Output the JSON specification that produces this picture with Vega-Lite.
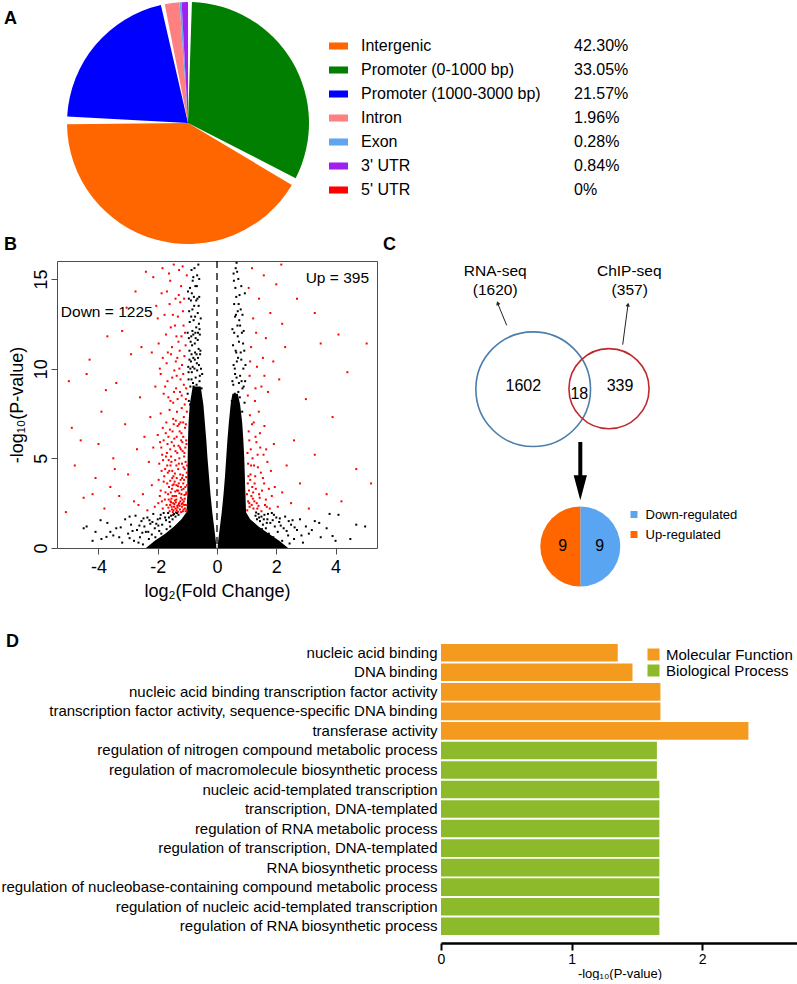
{
  "$schema": "https://vega.github.io/schema/vega-lite/v6.json",
  "background": "white",
  "padding": 0,
  "bounds": "full",
  "spacing": 2,
  "resolve": {"scale": {"color": "independent", "theta": "independent"}, "legend": {"color": "independent"}},
  "config": {
    "view": {"stroke": null},
    "font": "Liberation Sans",
    "text": {"font": "Liberation Sans", "color": "black"},
    "axis": {"labelFont": "Liberation Sans", "titleFont": "Liberation Sans", "titleFontWeight": "normal", "labelColor": "black", "titleColor": "black", "grid": false},
    "legend": {"labelFont": "Liberation Sans", "labelColor": "black"}
  },
  "datasets": {
    "genomic": [
      {"cat": "Intergenic", "pct": 42.30, "label": "42.30%", "pieRank": 2},
      {"cat": "Promoter (0-1000 bp)", "pct": 33.05, "label": "33.05%", "pieRank": 1},
      {"cat": "Promoter (1000-3000 bp)", "pct": 21.57, "label": "21.57%", "pieRank": 3},
      {"cat": "Intron", "pct": 1.96, "label": "1.96%", "pieRank": 4},
      {"cat": "Exon", "pct": 0.28, "label": "0.28%", "pieRank": 5},
      {"cat": "3' UTR", "pct": 0.84, "label": "0.84%", "pieRank": 6},
      {"cat": "5' UTR", "pct": 0, "label": "0%", "pieRank": 7}
    ],
    "core": [
      {"side": "L", "y": 0.0, "xo": -2.4, "xi": -0.02},
      {"side": "L", "y": 0.4, "xo": -2.1, "xi": -0.04},
      {"side": "L", "y": 0.8, "xo": -1.75, "xi": -0.07},
      {"side": "L", "y": 1.2, "xo": -1.45, "xi": -0.1},
      {"side": "L", "y": 1.6, "xo": -1.2, "xi": -0.13},
      {"side": "L", "y": 2.0, "xo": -1.03, "xi": -0.16},
      {"side": "L", "y": 3.0, "xo": -1.0, "xi": -0.22},
      {"side": "L", "y": 4.0, "xo": -1.0, "xi": -0.27},
      {"side": "L", "y": 5.0, "xo": -0.99, "xi": -0.32},
      {"side": "L", "y": 6.0, "xo": -0.98, "xi": -0.36},
      {"side": "L", "y": 7.0, "xo": -0.96, "xi": -0.41},
      {"side": "L", "y": 8.0, "xo": -0.92, "xi": -0.46},
      {"side": "L", "y": 9.0, "xo": -0.82, "xi": -0.55},
      {"side": "R", "y": 0.0, "xo": 2.4, "xi": 0.02},
      {"side": "R", "y": 0.4, "xo": 2.1, "xi": 0.04},
      {"side": "R", "y": 0.8, "xo": 1.75, "xi": 0.07},
      {"side": "R", "y": 1.2, "xo": 1.4, "xi": 0.1},
      {"side": "R", "y": 1.6, "xo": 1.12, "xi": 0.13},
      {"side": "R", "y": 2.0, "xo": 0.98, "xi": 0.16},
      {"side": "R", "y": 3.0, "xo": 0.96, "xi": 0.22},
      {"side": "R", "y": 4.0, "xo": 0.94, "xi": 0.27},
      {"side": "R", "y": 5.0, "xo": 0.92, "xi": 0.31},
      {"side": "R", "y": 6.0, "xo": 0.89, "xi": 0.35},
      {"side": "R", "y": 7.0, "xo": 0.85, "xi": 0.4},
      {"side": "R", "y": 8.0, "xo": 0.78, "xi": 0.46},
      {"side": "R", "y": 8.6, "xo": 0.7, "xi": 0.52}
    ],
    "pts": [
      {"g": "ns", "p": [[-4.5,1.1],[-4.4,1.2],[-4.1,0.9],[-3.93,1.55],[-3.9,0.5],[-3.73,0.62],[-3.7,1.4],[-3.5,0.7],[-3.4,1.1],[-3.2,0.3],[-3.1,1.6],[-3.0,0.8],[-2.9,1.3],[-2.8,0.4],[-2.75,1.8],[-2.7,1.0],[-2.6,0.6],[-2.55,1.5],[-2.5,0.2],[-2.45,1.2],[-2.4,0.9],[-2.35,1.7],[-2.3,0.5],[-2.25,1.35],[-2.2,0.75],[-2.15,1.9],[-2.1,1.1],[-2.05,0.35],[-2.0,1.6],[-1.95,0.95],[-1.9,1.85],[-1.85,1.3],[-1.8,0.6],[-1.75,1.7],[-1.7,1.05],[-1.65,1.95],[-1.6,1.45],[-1.55,1.8],[-1.5,1.6],[-1.45,1.9],[-1.4,1.75],[-1.35,1.95],[-1.3,1.85],[-2.62,1.25],[-2.85,0.95],[-3.25,1.15],[-2.95,1.75],[-2.48,1.65],[-2.18,1.45],[-1.98,1.25],[-1.72,1.55],[-1.58,1.2],[-1.88,0.8],[-2.08,0.6],[-2.32,0.9],
        [-4.2,0.4],[-3.6,0.9],[-3.3,0.6],[-2.95,0.55],[-2.65,0.3],[-2.52,0.85],[-2.28,1.55],[-2.05,1.35],[-1.92,1.65],[-1.8,1.95],[-1.62,1.7],[-1.48,1.85],[-1.38,1.98],
        [1.3,1.8],[1.35,1.6],[1.4,1.9],[1.45,1.5],[1.5,1.75],[1.55,1.3],[1.6,1.85],[1.65,1.1],[1.7,1.6],[1.75,0.8],[1.8,1.4],[1.85,1.95],[1.9,0.6],[1.95,1.2],[2.0,1.7],[2.05,0.9],[2.1,1.45],[2.2,0.4],[2.25,1.1],[2.3,1.75],[2.4,0.7],[2.5,1.3],[2.6,0.5],[2.7,1.0],[2.8,1.6],[2.9,0.3],[3.0,1.2],[3.1,0.8],[3.3,1.5],[3.5,0.6],[3.7,1.1],[3.8,1.9],[3.9,0.67],[4.1,1.85],[4.5,0.5],[4.7,1.3],[5.0,1.2],[1.52,1.05],[1.68,1.4],[1.88,1.55],[2.15,1.25],[2.35,0.95],[2.55,1.55],[1.98,0.45],[2.45,0.25],
        [1.32,1.98],[1.42,1.7],[1.58,1.6],[1.72,1.9],[1.92,1.85],[2.12,1.65],[2.42,1.5],[2.62,1.15],[2.85,0.7],[3.2,1.0],[3.45,1.4],[4.0,0.4],
        [-0.95,8.2],[-0.9,9.0],[-0.85,9.8],[-0.8,10.6],[-0.75,11.4],[-0.7,12.3],[-0.65,13.1],[-0.6,14.0],[-0.92,12.6],[-0.88,13.8],[-0.82,14.9],[-0.78,8.7],[-0.72,9.5],[-0.68,10.3],[-0.62,11.1],[-0.58,11.9],[-0.55,12.8],[-0.52,8.9],[-0.5,9.7],[-0.97,10.1],[-0.93,11.0],[-0.87,11.8],[-0.83,12.1],[-0.77,13.5],[-0.73,14.6],[-0.67,15.2],[-0.63,15.8],[-0.59,9.3],[-0.57,10.8],[-0.98,14.3],[-0.86,15.5],[-0.71,7.9],[-0.66,8.5],[-0.54,10.0],[-0.8,7.6],[-0.9,7.3],[-0.96,9.4],[-0.74,10.9],[-0.84,11.3],[-0.61,12.5],[-0.69,9.1],[-0.76,10.0],[-0.81,9.2],[-0.64,10.6],[-0.72,11.7],[-0.88,10.4],[-0.79,12.7],[-0.56,8.2],[-0.66,13.9],[-0.94,13.2],
        [-0.99,8.6],[-0.96,9.8],[-0.93,10.5],[-0.91,8.0],[-0.89,11.5],[-0.86,9.4],[-0.84,8.3],[-0.82,10.1],[-0.8,11.9],[-0.79,9.0],[-0.77,8.1],[-0.75,10.5],[-0.73,12.0],[-0.71,8.8],[-0.69,10.8],[-0.67,9.9],[-0.65,11.6],[-0.63,8.9],[-0.61,10.2],[-0.59,12.2],[-0.58,9.6],[-0.56,11.0],[-0.99,12.0],[-0.95,13.9],[-0.91,14.5],[-0.87,12.9],[-0.85,14.2],[-0.83,13.3],[-0.8,15.1],[-0.78,14.0],[-0.76,15.6],[-0.74,12.9],[-0.7,13.8],[-0.68,14.6],[-0.64,12.0],[-0.62,13.5],[-0.6,15.0],[-0.95,11.7],[-0.9,10.0],[-0.86,10.8],
        [0.5,8.2],[0.55,9.1],[0.6,10.0],[0.65,10.9],[0.7,11.8],[0.75,12.7],[0.58,13.6],[0.62,14.5],[0.68,15.4],[0.72,8.7],[0.78,9.6],[0.82,10.5],[0.88,11.4],[0.52,12.2],[0.64,13.0],[0.57,14.9],[0.93,8.1],[0.85,7.6],[0.7,7.4],[0.66,15.9],[0.54,11.3],[0.8,13.3],[0.9,9.0],[0.96,10.2],[0.76,14.1],[0.84,12.0],[0.59,7.8],[0.74,9.2],[0.63,8.4],[0.69,12.4],[0.61,9.7],[0.67,10.4],[0.73,13.6],
        [0.52,9.3],[0.56,10.2],[0.6,8.6],[0.63,11.0],[0.66,9.5],[0.69,8.2],[0.71,10.6],[0.74,11.5],[0.77,8.4],[0.8,10.9],[0.83,9.3],[0.86,8.9],[0.89,10.0],[0.92,11.0],[0.95,9.3],[0.58,12.0],[0.61,12.9],[0.65,14.0],[0.7,13.2],[0.78,12.4],[0.82,14.6],[0.86,13.0],[0.9,12.1],[0.56,15.3],[0.63,15.6],[0.72,15.0],[0.94,14.2]]},
      {"g": "sig", "p": [[-1.02,2.1],[-1.05,2.4],[-1.08,2.2],[-1.12,2.6],[-1.15,2.05],[-1.18,2.3],[-1.22,2.8],[-1.25,2.15],[-1.28,2.5],[-1.31,2.02],[-1.34,2.35],[-1.37,2.7],[-1.4,2.2],[-1.44,2.45],[-1.47,2.1],[-1.5,2.9],[-1.53,2.3],[-1.57,2.6],[-1.6,2.05],[-1.03,3.1],[-1.07,3.4],[-1.1,2.95],[-1.14,3.6],[-1.19,3.25],[-1.23,3.8],[-1.27,3.05],[-1.32,3.45],[-1.36,3.9],[-1.41,3.15],[-1.46,3.55],[-1.52,3.3],[-1.58,3.75],[-1.65,3.0],[-1.7,2.4],[-1.76,2.7],[-1.83,2.2],[-1.9,3.2],[-1.98,2.5],[-1.04,3.95],[-1.09,2.75],[-1.16,2.5],[-1.21,2.0],[-1.29,3.6],[-1.38,2.9],[-1.43,3.7],[-1.55,2.55],[-1.62,3.4],[-1.11,3.8],[-1.26,2.35],[-1.49,2.0],
        [-1.06,2.05],[-1.13,2.15],[-1.19,2.45],[-1.24,2.6],[-1.33,2.25],[-1.39,2.55],[-1.45,2.3],[-1.52,2.15],[-1.58,2.4],[-1.64,2.25],[-1.11,2.4],[-1.17,2.7],[-1.3,2.4],[-1.36,2.1],[-1.42,2.65],[-1.48,2.5],[-1.54,2.75],[-1.2,3.0],[-1.35,3.2],[-1.5,3.5],
        [-1.01,4.6],[-1.03,5.8],[-1.05,6.9],[-1.09,4.4],[-1.11,5.1],[-1.14,7.0],[-1.16,5.4],[-1.18,4.7],[-1.21,6.0],[-1.25,5.6],[-1.28,6.9],[-1.31,4.4],[-1.34,5.3],[-1.36,6.2],[-1.41,4.9],[-1.45,5.7],[-1.47,4.0],[-1.5,6.5],[-1.54,4.8],[-1.58,5.5],[-1.61,4.3],[-1.64,6.2],[-1.68,4.6],[-1.72,5.1],[-1.78,4.0],[-1.83,6.7],[-1.87,4.3],[-1.92,5.9],[-1.97,3.8],[-1.01,3.5],[-1.05,3.0],[-1.13,3.3],[-1.18,3.9],[-1.22,3.4],[-1.31,3.2],[-1.37,3.5],[-1.44,2.9],[-1.51,3.9],[-1.56,3.1],[-1.63,2.7],[-1.68,3.6],[-1.74,3.1],[-1.8,3.7],[-1.86,2.6],[-1.93,2.9],[-1.04,8.9],[-1.09,8.0],[-1.14,9.7],[-1.19,8.5],[-1.23,9.4],[-1.27,10.0],[-1.33,8.3],[-1.39,10.4],[-1.45,8.7],[-1.51,9.5],[-1.57,8.2],[-1.66,10.9],[-1.75,9.0],[-1.83,10.6],[-1.06,11.3],[-1.13,12.4],[-1.26,11.0],[-1.37,11.8],[-1.49,13.0],[-1.11,13.9],[-1.29,14.1],[-1.69,14.3],
        [-1.02,4.2],[-1.06,4.8],[-1.1,5.3],[-1.13,4.5],[-1.17,5.9],[-1.2,6.4],[-1.24,4.1],[-1.27,5.0],[-1.3,5.7],[-1.33,6.8],[-1.37,4.6],[-1.4,5.4],[-1.44,6.1],[-1.48,7.2],[-1.51,4.3],[-1.55,5.1],[-1.59,6.6],[-1.63,4.9],[-1.67,5.8],[-1.71,7.0],[-1.75,4.4],[-1.8,6.0],[-1.85,5.2],[-1.9,7.5],[-1.95,4.7],[-2.0,6.3],[-1.04,6.0],[-1.08,6.7],[-1.12,7.3],[-1.15,4.05],[-1.19,7.8],[-1.22,5.5],[-1.26,6.5],[-1.35,7.6],[-1.42,4.15],[-1.46,6.9],[-1.53,5.9],[-1.6,7.7],[-1.66,4.2],[-1.73,6.4],[-1.82,4.9],[-1.88,5.6],[-1.07,5.6],[-1.14,6.2],[-1.29,4.7],[-1.39,7.1],[-1.57,4.6],[-1.69,5.3],[-1.02,7.6],[-1.23,7.0],
        [-1.05,8.3],[-1.12,9.1],[-1.18,10.2],[-1.25,8.7],[-1.3,11.5],[-1.36,9.6],[-1.42,12.4],[-1.48,8.1],[-1.55,10.8],[-1.6,13.6],[-1.67,9.3],[-1.72,11.9],[-1.8,8.6],[-1.87,14.2],[-1.93,10.0],[-2.0,12.8],[-2.08,9.0],[-2.15,15.1],[-1.08,12.0],[-1.15,13.2],[-1.21,14.6],[-1.28,15.5],[-1.34,10.6],[-1.4,13.9],[-1.46,15.8],[-1.52,11.2],[-1.58,14.9],[-1.64,8.4],[-1.7,10.3],[-1.77,13.0],[-1.84,15.6],[-1.9,9.7],[-1.97,11.4],[-2.05,13.5],[-2.2,10.9],[-1.1,10.7],[-1.2,11.8],[-1.32,12.9],[-1.44,9.9],[-1.56,12.3],[-1.02,15.2],[-1.16,15.7],[-1.24,13.7],[-1.38,8.9],[-1.62,15.3],
        [-2.1,2.3],[-2.2,3.5],[-2.3,4.8],[-2.35,2.1],[-2.45,6.2],[-2.5,3.0],[-2.6,8.4],[-2.7,5.5],[-2.8,2.6],[-2.9,10.8],[-3.0,4.1],[-3.1,6.9],[-3.2,12.1],[-3.3,2.9],[-3.4,9.2],[-3.5,5.0],[-3.6,3.4],[-3.7,11.8],[-3.8,2.2],[-3.9,7.6],[-4.0,5.8],[-4.1,3.9],[-4.3,10.5],[-4.4,9.7],[-4.5,2.8],[-4.6,6.0],[-4.8,4.6],[-5.0,9.3],[-5.1,2.0],[-4.9,6.7],[-2.25,7.3],[-2.55,11.2],[-2.75,14.3],[-2.4,15.4],[-3.05,13.4],[-2.65,2.4],[-3.45,4.4],[-2.15,5.6],[-4.2,3.0],[-3.75,8.8],
        [1.02,2.1],[1.05,2.6],[1.08,3.2],[1.1,2.3],[1.13,4.1],[1.16,2.9],[1.2,5.0],[1.23,2.2],[1.27,3.6],[1.3,6.2],[1.34,2.5],[1.38,4.5],[1.42,3.0],[1.46,5.6],[1.5,2.05],[1.55,3.9],[1.6,6.8],[1.65,2.7],[1.7,4.8],[1.75,3.3],[1.03,5.3],[1.07,6.5],[1.11,7.4],[1.15,4.6],[1.19,3.4],[1.24,7.0],[1.29,4.0],[1.33,5.9],[1.4,2.35],[1.48,4.2],[1.57,5.2],[1.62,2.4],[1.78,2.2],[1.06,4.0],[1.21,2.75],
        [1.01,3.0],[1.04,3.6],[1.09,2.5],[1.12,3.8],[1.17,2.4],[1.22,3.1],[1.26,2.6],[1.31,3.3],[1.36,2.2],[1.44,2.8],[1.52,3.2],[1.59,3.6],[1.68,2.3],[1.85,2.9],[1.95,3.4],[1.05,4.7],[1.14,5.5],[1.25,4.6],[1.37,5.2],[1.45,6.4],[1.66,5.5],[1.82,4.3],[1.92,5.8],[1.09,6.0],[1.18,6.9],[1.41,7.6],[1.3,8.9],[1.12,10.4],[1.6,9.6],
        [1.04,8.5],[1.1,9.6],[1.15,11.2],[1.22,12.8],[1.28,8.2],[1.35,10.1],[1.42,13.9],[1.5,9.0],[1.58,15.2],[1.65,11.7],[1.72,8.7],[1.8,13.1],[1.9,10.4],[2.0,14.7],[2.1,9.4],[1.07,14.5],[1.18,15.6],[1.32,12.0],[1.55,10.6],[2.2,12.5],
        [2.05,2.3],[2.2,3.1],[2.35,4.6],[2.5,2.5],[2.6,6.0],[2.8,3.6],[3.0,8.3],[3.1,2.2],[3.3,5.2],[3.5,11.4],[3.7,3.0],[3.9,7.3],[4.2,2.6],[4.4,9.8],[4.7,4.4],[5.05,11.4],[5.2,3.6],[2.3,11.2],[2.7,13.9],[3.3,13.1],[4.1,11.9],[2.17,15.8]]}
    ],
    "volcText": [
      {"label": "Down = 1225", "side": "down"},
      {"label": "Up = 395", "side": "up"}
    ],
    "venn": [
      {"set": "RNA-seq", "total": 1620, "only": 1602},
      {"set": "ChIP-seq", "total": 357, "only": 339}
    ],
    "shared": [{"n": 18}],
    "reg": [
      {"reg": "Down-regulated", "n": 9},
      {"reg": "Up-regulated", "n": 9}
    ],
    "go": [
      {"term": "nucleic acid binding", "p": 1.354, "cat": "Molecular Function"},
      {"term": "DNA binding", "p": 1.467, "cat": "Molecular Function"},
      {"term": "nucleic acid binding transcription factor activity", "p": 1.681, "cat": "Molecular Function"},
      {"term": "transcription factor activity, sequence-specific DNA binding", "p": 1.681, "cat": "Molecular Function"},
      {"term": "transferase activity", "p": 2.355, "cat": "Molecular Function"},
      {"term": "regulation of nitrogen compound metabolic process", "p": 1.654, "cat": "Biological Process"},
      {"term": "regulation of macromolecule biosynthetic process", "p": 1.654, "cat": "Biological Process"},
      {"term": "nucleic acid-templated transcription", "p": 1.673, "cat": "Biological Process"},
      {"term": "transcription, DNA-templated", "p": 1.673, "cat": "Biological Process"},
      {"term": "regulation of RNA metabolic process", "p": 1.673, "cat": "Biological Process"},
      {"term": "regulation of transcription, DNA-templated", "p": 1.673, "cat": "Biological Process"},
      {"term": "RNA biosynthetic process", "p": 1.673, "cat": "Biological Process"},
      {"term": "regulation of nucleobase-containing compound metabolic process", "p": 1.673, "cat": "Biological Process"},
      {"term": "regulation of nucleic acid-templated transcription", "p": 1.673, "cat": "Biological Process"},
      {"term": "regulation of RNA biosynthetic process", "p": 1.673, "cat": "Biological Process"}
    ],
    "panels": [
      {"panel": "A"}, {"panel": "B"}, {"panel": "C"}, {"panel": "D"}
    ]
  },
  "vconcat": [
    {
      "hconcat": [
        {
          "width": 59, "height": 257,
          "data": {"name": "panels"},
          "encoding": {
            "x": {"datum": 3, "type": "quantitative", "scale": {"domain": [0, 59], "nice": false, "zero": false}, "axis": null},
            "text": {"field": "panel"}
          },
          "layer": [
            {
              "transform": [{"filter": "datum.panel === 'A'"}],
              "mark": {"type": "text", "align": "left", "baseline": "middle", "fontSize": 18, "fontWeight": "bold"},
              "encoding": {"y": {"datum": 18.5, "type": "quantitative", "scale": {"domain": [0, 257], "nice": false, "zero": false, "reverse": true}, "axis": null}}
            },
            {
              "transform": [{"filter": "datum.panel === 'B'"}],
              "mark": {"type": "text", "align": "left", "baseline": "middle", "fontSize": 18, "fontWeight": "bold"},
              "encoding": {"y": {"datum": 245, "type": "quantitative"}}
            }
          ]
        },
        {
          "width": 256, "height": 257,
          "data": {"name": "genomic"},
          "encoding": {
            "x": {"datum": 128, "type": "quantitative", "scale": {"domain": [0, 256], "nice": false, "zero": false}, "axis": null},
            "y": {"datum": 123, "type": "quantitative", "scale": {"domain": [0, 257], "nice": false, "zero": false, "reverse": true}, "axis": null},
            "theta": {"field": "pct", "type": "quantitative", "stack": true},
            "order": {"field": "pieRank", "type": "quantitative"}
          },
          "layer": [
            {
              "mark": {"type": "arc", "outerRadius": 121, "padAngle": 0.065},
              "encoding": {
                "color": {"field": "cat", "type": "nominal", "legend": null,
                  "scale": {"domain": ["Intergenic", "Promoter (0-1000 bp)", "Promoter (1000-3000 bp)", "Intron", "Exon", "3' UTR", "5' UTR"],
                            "range": ["#ff6600", "#007f00", "#0000ff", "#ff8080", "#5fa5f0", "#a020f0", "#ff0000"]}},
                "opacity": {"condition": {"test": "datum.pct > 5", "value": 1}, "value": 0}
              }
            },
            {
              "mark": {"type": "arc", "outerRadius": 121},
              "encoding": {
                "color": {"field": "cat", "type": "nominal", "legend": null},
                "opacity": {"condition": {"test": "datum.pct > 5", "value": 0}, "value": 1}
              }
            }
          ]
        },
        {
          "width": 300, "height": 257,
          "layer": [
            {
              "data": {"name": "genomic"},
              "encoding": {
                "y": {"field": "cat", "type": "nominal", "sort": null, "axis": null,
                      "scale": {"domain": ["Intergenic", "Promoter (0-1000 bp)", "Promoter (1000-3000 bp)", "Intron", "Exon", "3' UTR", "5' UTR"], "range": [34, 202], "paddingInner": 0, "paddingOuter": 0}},
                "x": {"datum": 22.5, "type": "quantitative", "scale": {"domain": [0, 300], "nice": false, "zero": false}, "axis": null}
              },
              "layer": [
                {
                  "mark": {"type": "point", "shape": "M-1,-0.37H1V0.37H-1Z", "size": 361, "filled": true, "opacity": 1, "strokeWidth": 0},
                  "encoding": {
                    "color": {"field": "cat", "type": "nominal", "legend": null,
                      "scale": {"domain": ["Intergenic", "Promoter (0-1000 bp)", "Promoter (1000-3000 bp)", "Intron", "Exon", "3' UTR", "5' UTR"],
                                "range": ["#ff6600", "#007f00", "#0000ff", "#ff8080", "#5fa5f0", "#a020f0", "#ff0000"]}}
                  }
                },
                {
                  "mark": {"type": "text", "align": "left", "baseline": "middle", "fontSize": 16},
                  "encoding": {"x": {"datum": 45, "type": "quantitative"}, "text": {"field": "cat"}}
                },
                {
                  "mark": {"type": "text", "align": "left", "baseline": "middle", "fontSize": 16},
                  "encoding": {"x": {"datum": 258, "type": "quantitative"}, "text": {"field": "label"}}
                }
              ]
            },
            {
              "data": {"name": "panels"},
              "transform": [{"filter": "datum.panel === 'C'"}],
              "mark": {"type": "text", "align": "left", "baseline": "middle", "fontSize": 18, "fontWeight": "bold"},
              "encoding": {
                "x": {"datum": 67, "type": "quantitative"},
                "y": {"datum": 245, "type": "quantitative", "scale": {"domain": [0, 257], "nice": false, "zero": false, "reverse": true}, "axis": null},
                "text": {"field": "panel"}
              }
            }
          ],
          "resolve": {"scale": {"y": "independent"}}
        }
      ],
      "spacing": 0, "bounds": "flush",
      "resolve": {"scale": {"color": "independent", "theta": "independent"}, "legend": {"color": "independent"}}
    },
    {
      "hconcat": [
        {
          "width": 56, "height": 287,
          "data": {"values": [{}]},
          "mark": {"type": "point", "opacity": 0},
          "encoding": {}
        },
        {
          "width": 320, "height": 287,
          "view": {"stroke": "#4d4d4d", "strokeWidth": 1},
          "layer": [
            {
              "data": {"name": "core"},
              "mark": {"type": "area", "orient": "horizontal", "color": "black", "opacity": 1},
              "encoding": {
                "y": {"field": "y", "type": "quantitative",
                  "scale": {"domain": [0, 16], "nice": false, "zero": false},
                  "axis": {"values": [0, 5, 10, 15], "title": "-log₁₀(P-value)", "domain": false, "tickSize": 6, "tickColor": "#4d4d4d", "labelFontSize": 18, "titleFontSize": 18, "labelAngle": -90, "labelAlign": "center", "labelBaseline": "bottom", "labelPadding": 1, "titlePadding": 6}},
                "x": {"field": "xo", "type": "quantitative",
                  "scale": {"domain": [-5.4, 5.4], "nice": false, "zero": false},
                  "axis": {"values": [-4, -2, 0, 2, 4], "labelExpr": "'' + datum.value", "title": "log₂(Fold Change)", "domain": false, "tickSize": 6, "tickColor": "#4d4d4d", "labelFontSize": 18, "titleFontSize": 18, "labelPadding": 4, "titlePadding": 6, "labelFlush": false}},
                "x2": {"field": "xi"},
                "detail": {"field": "side"}
              }
            },
            {
              "data": {"name": "pts"},
              "transform": [{"flatten": ["p"]}],
              "mark": {"type": "point", "shape": "square", "filled": true, "size": 4, "opacity": 1, "strokeWidth": 0},
              "encoding": {
                "x": {"field": "p[0]", "type": "quantitative"},
                "y": {"field": "p[1]", "type": "quantitative"},
                "color": {"field": "g", "type": "nominal", "legend": null, "scale": {"domain": ["ns", "sig"], "range": ["#000000", "#ff0000"]}}
              }
            },
            {
              "data": {"values": [{}]},
              "mark": {"type": "rule", "color": "black", "strokeWidth": 1.3, "strokeDash": [7, 5]},
              "encoding": {"x": {"datum": 0, "type": "quantitative"}}
            },
            {
              "data": {"name": "volcText"},
              "transform": [{"filter": "datum.side === 'down'"}],
              "mark": {"type": "text", "align": "left", "baseline": "middle", "fontSize": 15.5},
              "encoding": {"x": {"datum": -5.27, "type": "quantitative"}, "y": {"datum": 13.15, "type": "quantitative"}, "text": {"field": "label"}}
            },
            {
              "data": {"name": "volcText"},
              "transform": [{"filter": "datum.side === 'up'"}],
              "mark": {"type": "text", "align": "right", "baseline": "middle", "fontSize": 15.5},
              "encoding": {"x": {"datum": 5.13, "type": "quantitative"}, "y": {"datum": 15.05, "type": "quantitative"}, "text": {"field": "label"}}
            }
          ]
        },
        {
          "width": 421, "height": 370,
          "data": {"name": "venn"},
          "layer": [
            {
              "transform": [{"filter": "datum.set === 'RNA-seq'"}],
              "mark": {"type": "point", "shape": "circle", "size": 13151, "filled": false, "color": "#4a7eab", "strokeWidth": 1.6, "opacity": 1},
              "encoding": {
                "x": {"datum": 156.2, "type": "quantitative", "scale": {"domain": [0, 421], "nice": false, "zero": false}, "axis": null},
                "y": {"datum": 128.2, "type": "quantitative", "scale": {"domain": [0, 370], "nice": false, "zero": false, "reverse": true}, "axis": null}
              }
            },
            {
              "transform": [{"filter": "datum.set === 'ChIP-seq'"}],
              "mark": {"type": "point", "shape": "circle", "size": 6418, "filled": false, "color": "#c0282d", "strokeWidth": 1.6, "opacity": 1},
              "encoding": {"x": {"datum": 232, "type": "quantitative"}, "y": {"datum": 127.7, "type": "quantitative"}}
            },
            {
              "transform": [{"filter": "datum.set === 'RNA-seq'"}],
              "mark": {"type": "text", "align": "center", "baseline": "middle", "fontSize": 15.5},
              "encoding": {"x": {"datum": 118.2, "type": "quantitative"}, "y": {"datum": 10.3, "type": "quantitative"}, "text": {"field": "set"}}
            },
            {
              "transform": [{"filter": "datum.set === 'ChIP-seq'"}],
              "mark": {"type": "text", "align": "center", "baseline": "middle", "fontSize": 15.5},
              "encoding": {"x": {"datum": 252.3, "type": "quantitative"}, "y": {"datum": 10.3, "type": "quantitative"}, "text": {"field": "set"}}
            },
            {
              "transform": [{"filter": "datum.set === 'RNA-seq'"}, {"calculate": "'(' + datum.total + ')'", "as": "totLabel"}],
              "mark": {"type": "text", "align": "center", "baseline": "middle", "fontSize": 15.5},
              "encoding": {"x": {"datum": 118.2, "type": "quantitative"}, "y": {"datum": 29.3, "type": "quantitative"}, "text": {"field": "totLabel"}}
            },
            {
              "transform": [{"filter": "datum.set === 'ChIP-seq'"}, {"calculate": "'(' + datum.total + ')'", "as": "totLabel"}],
              "mark": {"type": "text", "align": "center", "baseline": "middle", "fontSize": 15.5},
              "encoding": {"x": {"datum": 252.7, "type": "quantitative"}, "y": {"datum": 29.3, "type": "quantitative"}, "text": {"field": "totLabel"}}
            },
            {
              "transform": [{"filter": "datum.set === 'RNA-seq'"}],
              "mark": {"type": "text", "align": "center", "baseline": "middle", "fontSize": 16},
              "encoding": {"x": {"datum": 146.3, "type": "quantitative"}, "y": {"datum": 125, "type": "quantitative"}, "text": {"field": "only"}}
            },
            {
              "transform": [{"filter": "datum.set === 'ChIP-seq'"}],
              "mark": {"type": "text", "align": "center", "baseline": "middle", "fontSize": 16},
              "encoding": {"x": {"datum": 243, "type": "quantitative"}, "y": {"datum": 124.9, "type": "quantitative"}, "text": {"field": "only"}}
            },
            {
              "data": {"name": "shared"},
              "mark": {"type": "text", "align": "center", "baseline": "middle", "fontSize": 16},
              "encoding": {"x": {"datum": 202.3, "type": "quantitative"}, "y": {"datum": 132.7, "type": "quantitative"}, "text": {"field": "n"}}
            },
            {
              "data": {"values": [{}]},
              "mark": {"type": "rule", "color": "#222222", "strokeWidth": 1},
              "encoding": {"x": {"datum": 129.7, "type": "quantitative"}, "y": {"datum": 64.3, "type": "quantitative"}, "x2": {"datum": 120.5}, "y2": {"datum": 42}}
            },
            {
              "data": {"values": [{}]},
              "mark": {"type": "point", "shape": "triangle-up", "size": 20, "filled": true, "color": "#222222", "opacity": 1, "angle": -22},
              "encoding": {"x": {"datum": 120.7, "type": "quantitative"}, "y": {"datum": 42.1, "type": "quantitative"}}
            },
            {
              "data": {"values": [{}]},
              "mark": {"type": "rule", "color": "#222222", "strokeWidth": 1},
              "encoding": {"x": {"datum": 245.7, "type": "quantitative"}, "y": {"datum": 83.7, "type": "quantitative"}, "x2": {"datum": 251.0}, "y2": {"datum": 43.6}}
            },
            {
              "data": {"values": [{}]},
              "mark": {"type": "point", "shape": "triangle-up", "size": 20, "filled": true, "color": "#222222", "opacity": 1, "angle": 7.6},
              "encoding": {"x": {"datum": 251.0, "type": "quantitative"}, "y": {"datum": 43.6, "type": "quantitative"}}
            },
            {
              "data": {"values": [{}]},
              "mark": {"type": "rule", "color": "black", "strokeWidth": 4},
              "encoding": {"x": {"datum": 203.3, "type": "quantitative"}, "y": {"datum": 181, "type": "quantitative"}, "x2": {"datum": 203.3}, "y2": {"datum": 216}}
            },
            {
              "data": {"values": [{}]},
              "mark": {"type": "point", "shape": "M-0.53,-1L0.53,-1L0,1Z", "size": 625, "filled": true, "color": "black", "opacity": 1, "strokeWidth": 0},
              "encoding": {"x": {"datum": 203.3, "type": "quantitative"}, "y": {"datum": 226.8, "type": "quantitative"}}
            },
            {
              "data": {"name": "reg"},
              "mark": {"type": "arc", "outerRadius": 40},
              "encoding": {
                "x": {"datum": 203.3, "type": "quantitative"},
                "y": {"datum": 285.5, "type": "quantitative"},
                "theta": {"field": "n", "type": "quantitative", "stack": true},
                "color": {"field": "reg", "type": "nominal",
                  "scale": {"domain": ["Down-regulated", "Up-regulated"], "range": ["#5aa5f2", "#ff6600"]},
                  "legend": {"orient": "none", "legendX": 250.5, "legendY": 247, "title": null, "symbolType": "square", "symbolSize": 49, "symbolStrokeWidth": 0, "symbolOpacity": 1, "labelFontSize": 13, "labelOffset": 5, "rowPadding": 6}}
              }
            },
            {
              "data": {"name": "reg"},
              "transform": [{"filter": "datum.reg === 'Up-regulated'"}],
              "mark": {"type": "text", "align": "center", "baseline": "middle", "fontSize": 16},
              "encoding": {"x": {"datum": 185.7, "type": "quantitative"}, "y": {"datum": 285.3, "type": "quantitative"}, "text": {"field": "n"}}
            },
            {
              "data": {"name": "reg"},
              "transform": [{"filter": "datum.reg === 'Down-regulated'"}],
              "mark": {"type": "text", "align": "center", "baseline": "middle", "fontSize": 16},
              "encoding": {"x": {"datum": 222.7, "type": "quantitative"}, "y": {"datum": 285.3, "type": "quantitative"}, "text": {"field": "n"}}
            }
          ]
        }
      ],
      "spacing": 0, "bounds": "flush",
      "resolve": {"scale": {"color": "independent", "theta": "independent"}, "legend": {"color": "independent"}}
    },
    {
      "hconcat": [
        {
          "width": 440, "height": 291,
          "data": {"name": "panels"},
          "transform": [{"filter": "datum.panel === 'D'"}],
          "mark": {"type": "text", "align": "left", "baseline": "middle", "fontSize": 18, "fontWeight": "bold"},
          "encoding": {
            "text": {"field": "panel"},
            "x": {"datum": 5, "type": "quantitative", "scale": {"domain": [0, 440], "nice": false, "zero": false}, "axis": null},
            "y": {"datum": -2, "type": "quantitative", "scale": {"domain": [0, 291], "nice": false, "zero": false, "reverse": true}, "axis": null}
          }
        },
        {
          "width": 357, "height": 291,
          "data": {"name": "go"},
          "mark": {"type": "bar"},
          "encoding": {
            "y": {"field": "term", "type": "nominal", "sort": null,
                  "scale": {"paddingInner": 0.1, "paddingOuter": 0},
                  "axis": {"title": null, "ticks": false, "domain": false, "labelFontSize": 15, "labelPadding": 4, "labelLimit": 600}},
            "x": {"field": "p", "type": "quantitative",
                  "scale": {"domain": [0, 2.735], "nice": false},
                  "axis": {"values": [0, 1, 2], "title": "-log₁₀(P-value)", "titleFontSize": 13, "labelFontSize": 14, "domainWidth": 2.5, "domainColor": "black", "tickColor": "black", "tickWidth": 2, "tickSize": 7, "offset": 8, "labelPadding": 2, "titlePadding": 1, "labelFlush": false}},
            "color": {"field": "cat", "type": "nominal",
                      "scale": {"domain": ["Molecular Function", "Biological Process"], "range": ["#f39a1f", "#8cba2b"]},
                      "legend": {"orient": "none", "legendX": 205, "legendY": 3, "title": null, "symbolType": "square", "symbolSize": 144, "symbolStrokeWidth": 0, "symbolOpacity": 1, "labelFontSize": 15, "labelOffset": 5, "rowPadding": 0}}
          }
        }
      ],
      "spacing": 0, "bounds": "flush",
      "resolve": {"scale": {"color": "independent"}, "legend": {"color": "independent"}}
    }
  ]
}
